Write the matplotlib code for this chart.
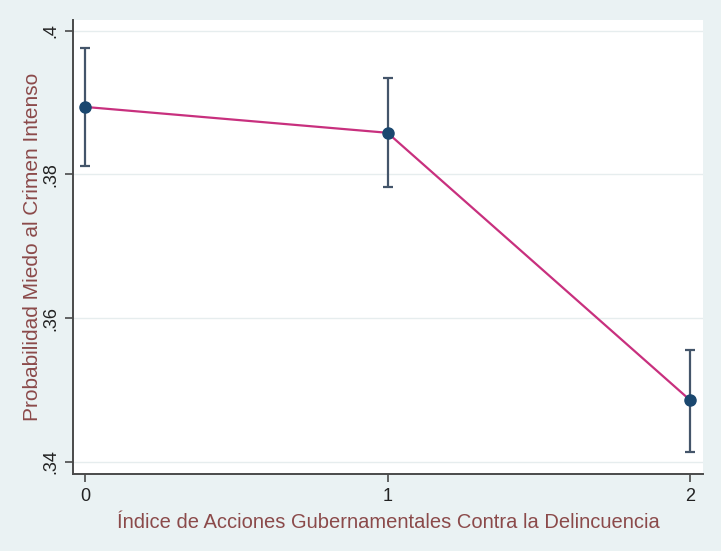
# Margins plot: fear of crime probability by index of government actions
import matplotlib
matplotlib.use('Agg')
import matplotlib.pyplot as plt

# Data
indice = [0, 1, 2]
prob = [0.3894, 0.3858, 0.3486]
ci_low = [0.3812, 0.3783, 0.3413]
ci_high = [0.3976, 0.3934, 0.3555]

y_ticks = [0.34, 0.36, 0.38, 0.40]
y_tick_labels = ['.34', '.36', '.38', '.4']
x_ticks = [0, 1, 2]

bg = '#EAF2F3'
title_color = '#8B4A4A'
line_color = '#C8307E'
marker_color = '#1A476F'
bar_color = '#44556A'

plt.rcParams['font.family'] = ['Liberation Sans', 'DejaVu Sans']

fig = plt.figure(figsize=(7.21, 5.51), dpi=100, facecolor=bg)
ax = fig.add_axes([0.1012, 0.1397, 0.8738, 0.824])
ax.set_facecolor('white')

# Error bars
err_low = [p - l for p, l in zip(prob, ci_low)]
err_high = [h - p for p, h in zip(prob, ci_high)]
ax.errorbar(indice, prob, yerr=[err_low, err_high], fmt='none',
            ecolor=bar_color, elinewidth=1.6, capsize=3.5, capthick=1.6, zorder=2)

# Line and markers
ax.plot(indice, prob, color=line_color, linewidth=1.6, zorder=3)
ax.plot(indice, prob, 'o', color=marker_color, markersize=8, zorder=4)

ax.set_xlim(-0.04, 2.043)
ax.set_ylim(0.3383, 0.4015)

ax.set_yticks(y_ticks)
ax.set_yticklabels(y_tick_labels, rotation=90, va='center')
ax.set_xticks(x_ticks)
ax.set_xticklabels([str(x) for x in x_ticks])

ax.grid(axis='y', color='#E6EDEE', linewidth=1.0)
ax.set_axisbelow(True)

for side in ['top', 'right']:
    ax.spines[side].set_visible(False)
for side in ['left', 'bottom']:
    ax.spines[side].set_color('#4A4A4A')
    ax.spines[side].set_linewidth(1.4)

ax.tick_params(axis='both', colors='#4A4A4A', labelcolor='#222222',
               labelsize=13, length=6, width=1.2, pad=4)

ax.set_xlabel('Índice de Acciones Gubernamentales Contra la Delincuencia',
              color=title_color, fontsize=14.5, labelpad=6)
ax.set_ylabel('Probabilidad Miedo al Crimen Intenso',
              color=title_color, fontsize=15, labelpad=0)

fig.savefig('out.png', dpi=100, facecolor=bg)
